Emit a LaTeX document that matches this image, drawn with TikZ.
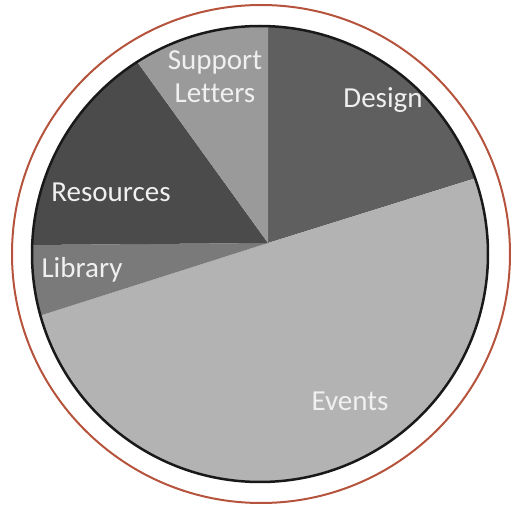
\documentclass[tikz,border=0pt]{standalone}
\usepackage{fontspec}
\setmainfont[Ligatures=NoCommon]{Carlito}
\usepackage{xcolor}
\usepackage{tikz}
\usetikzlibrary{positioning}

\definecolor{ringred}{HTML}{B5533C}
\definecolor{designgray}{HTML}{5F5F5F}
\definecolor{eventsgray}{HTML}{B3B3B3}
\definecolor{librarygray}{HTML}{7A7A7A}
\definecolor{resourcesgray}{HTML}{4B4B4B}
\definecolor{supportgray}{HTML}{9A9A9A}

\tikzset{
    slicelabel/.style={text=white!94!black, font=\fontsize{29}{33}\selectfont, align=center, inner sep=0pt}
}

\begin{document}
\begin{tikzpicture}[x=1pt, y=-1pt]
    \useasboundingbox (0,0) rectangle (515,505);

    % Outer ring
    \draw[ringred, line width=2pt] (261,254) circle (249);

    % Slices, clipped to the pie
    \begin{scope}
        \clip (260,254) circle (228);
        \fill[designgray] (268,243) -- (268,-297) -- (700,-297) -- (678,115) -- cycle;
        \fill[eventsgray] (268,243) -- (678,115) -- (700,700) -- (-200,700) -- (-184,387) -- cycle;
        \fill[librarygray] (268,243) -- (-184,387) -- (-204,247) -- cycle;
        \fill[resourcesgray] (268,243) -- (-204,247) -- (-204,-297) -- (-122,-297) -- cycle;
        \fill[supportgray] (268,243) -- (-122,-297) -- (268,-297) -- cycle;
    \end{scope}

    % Pie outline
    \draw[black!90, line width=2.5pt] (260,254) circle (228);

    % Labels
    \node[slicelabel] (support) at (215,77) {Support\\Letters};
    \node[slicelabel] (design) at (383,100) {Design};
    \node[slicelabel] (resources) at (111,192) {Resources};
    \node[slicelabel] (library) at (82,270) {Library};
    \node[slicelabel] (events) at (350,401) {Events};
\end{tikzpicture}
\end{document}
